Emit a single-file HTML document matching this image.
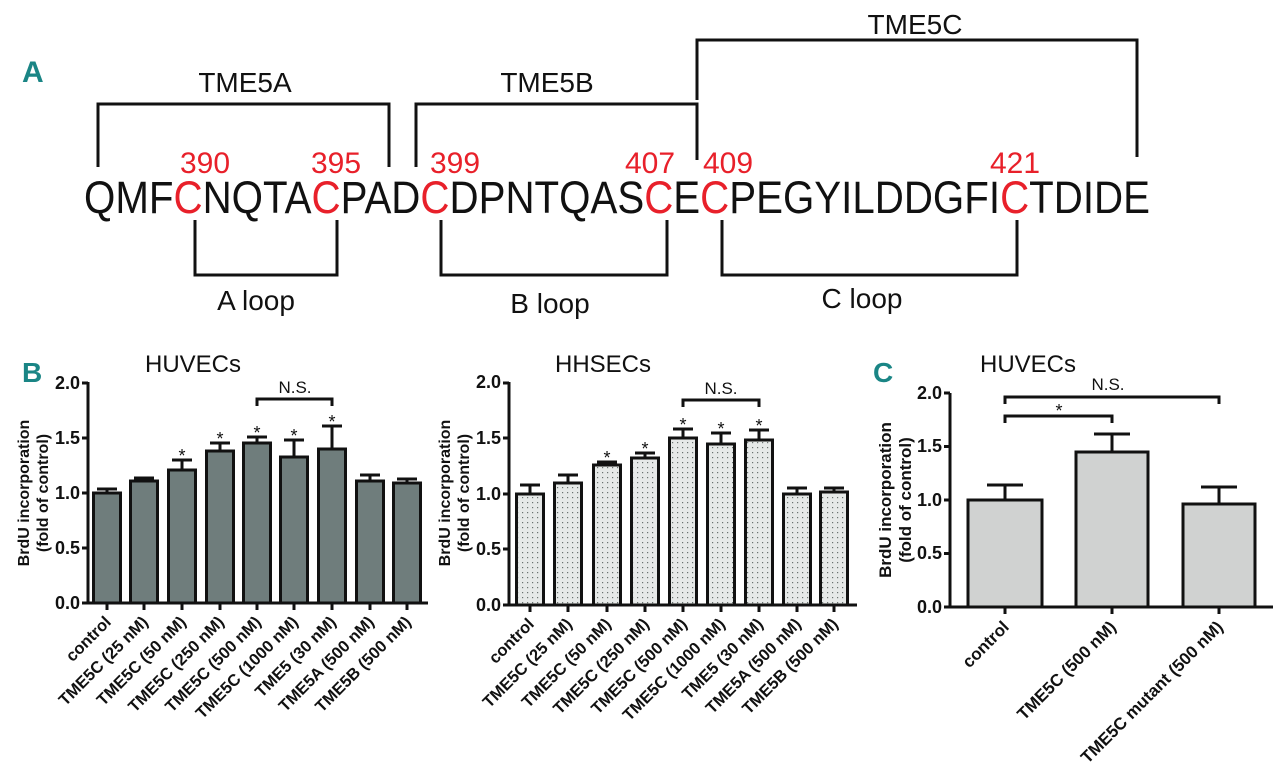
<!DOCTYPE html>
<html><head><meta charset="utf-8"><style>body{margin:0;background:#fff}svg{display:block}</style></head><body>
<svg width="1280" height="767" viewBox="0 0 1280 767" xmlns="http://www.w3.org/2000/svg" font-family="Liberation Sans, sans-serif">
<defs>
<pattern id="dots" width="5" height="5" patternUnits="userSpaceOnUse"><rect width="5" height="5" fill="#e6e9e8"/><rect x="2" y="2" width="1.2" height="1.2" fill="#6a7270"/></pattern>
</defs>
<!-- Panel A -->
<text x="22" y="82" font-size="30" font-weight="bold" fill="#1a8585">A</text>
<g stroke="#111" stroke-width="3" fill="none">
<polyline points="98,167 98,104 389,104 389,167"/>
<polyline points="416,167 416,104 697,104 697,160"/>
<polyline points="697,100 697,40 1137,40 1137,157"/>
<polyline points="195,220 195,275 337,275 337,220"/>
<polyline points="441,220 441,275 667,275 667,220"/>
<polyline points="722,220 722,275 1017,275 1017,220"/>
</g>
<g font-size="28" fill="#111" text-anchor="middle">
<text x="245" y="92">TME5A</text>
<text x="547" y="92">TME5B</text>
<text x="915" y="34">TME5C</text>
<text x="256" y="310">A loop</text>
<text x="550" y="313">B loop</text>
<text x="862" y="308">C loop</text>
</g>
<g font-size="30" fill="#e8202a" text-anchor="middle">
<text x="205" y="173">390</text><text x="336" y="173">395</text><text x="455" y="173">399</text>
<text x="650" y="173">407</text><text x="728" y="173">409</text><text x="1015" y="173">421</text>
</g>
<text x="84" y="213" font-size="45" fill="#111" textLength="1066" lengthAdjust="spacingAndGlyphs">QMF<tspan fill="#e8202a">C</tspan>NQTA<tspan fill="#e8202a">C</tspan>PAD<tspan fill="#e8202a">C</tspan>DPNTQAS<tspan fill="#e8202a">C</tspan>E<tspan fill="#e8202a">C</tspan>PEGYILDDGFI<tspan fill="#e8202a">C</tspan>TDIDE</text>

<!-- Panel B left -->
<text x="22" y="382" font-size="28" font-weight="bold" fill="#1a8585">B</text>
<text x="193" y="372" font-size="24" text-anchor="middle" fill="#111">HUVECs</text>
<g font-size="16" font-weight="bold" text-anchor="middle" fill="#111">
<text transform="translate(29,493) rotate(-90)">BrdU incorporation</text>
<text transform="translate(48,493) rotate(-90)">(fold of control)</text>
</g>
<g font-size="18" font-weight="bold" text-anchor="end" fill="#111">
<text x="80" y="389">2.0</text><text x="80" y="444">1.5</text><text x="80" y="499">1.0</text><text x="80" y="554">0.5</text><text x="80" y="609">0.0</text>
</g>
<g fill="#6f7d7c" stroke="#111" stroke-width="3">
<rect x="93.5" y="493" width="27" height="110"/><rect x="130.5" y="481" width="27" height="122"/><rect x="168.5" y="470" width="27" height="133"/>
<rect x="206.5" y="451" width="27" height="152"/><rect x="243.5" y="443" width="27" height="160"/><rect x="280.5" y="457" width="27" height="146"/>
<rect x="318.5" y="449" width="27" height="154"/><rect x="356.5" y="481" width="27" height="122"/><rect x="393.5" y="483" width="27" height="120"/>
</g>
<g stroke="#111" stroke-width="3" fill="none">
<path d="M107 493V489M97 489H117M144 481V478M134 478H154M182 470V460M172 460H192M220 451V443M210 443H230M257 443V437M247 437H267M294 457V440M284 440H304M332 449V426M322 426H342M370 481V475M360 475H380M407 483V479M397 479H417"/>
<path d="M88 382V603H428M82 383H88M82 438H88M82 493H88M82 548H88M82 603H88"/>
<path d="M107 603V610M144 603V610M182 603V610M220 603V610M257 603V610M294 603V610M332 603V610M370 603V610M407 603V610"/>
<path d="M257 406V399H332V406"/>
</g>
<text x="295" y="393" font-size="17" text-anchor="middle" fill="#111">N.S.</text>
<g font-size="18" text-anchor="middle" fill="#111"><text x="182" y="462">*</text><text x="220" y="445">*</text><text x="257" y="439">*</text><text x="294" y="442">*</text><text x="332" y="428">*</text></g>
<g font-size="16.5" font-weight="bold" text-anchor="end" fill="#111">
<text transform="translate(112,623) rotate(-45)">control</text>
<text transform="translate(149,623) rotate(-45)">TME5C (25 nM)</text>
<text transform="translate(187,623) rotate(-45)">TME5C (50 nM)</text>
<text transform="translate(225,623) rotate(-45)">TME5C (250 nM)</text>
<text transform="translate(262,623) rotate(-45)">TME5C (500 nM)</text>
<text transform="translate(299,623) rotate(-45)">TME5C (1000 nM)</text>
<text transform="translate(337,623) rotate(-45)">TME5 (30 nM)</text>
<text transform="translate(375,623) rotate(-45)">TME5A (500 nM)</text>
<text transform="translate(412,623) rotate(-45)">TME5B (500 nM)</text>
</g>

<!-- Panel B middle -->
<text x="603" y="372" font-size="24" text-anchor="middle" fill="#111">HHSECs</text>
<g font-size="16" font-weight="bold" text-anchor="middle" fill="#111">
<text transform="translate(450,493) rotate(-90)">BrdU incorporation</text>
<text transform="translate(469,493) rotate(-90)">(fold of control)</text>
</g>
<g font-size="18" font-weight="bold" text-anchor="end" fill="#111">
<text x="501" y="388">2.0</text><text x="501" y="444">1.5</text><text x="501" y="500">1.0</text><text x="501" y="555">0.5</text><text x="501" y="611">0.0</text>
</g>
<g fill="url(#dots)" stroke="#111" stroke-width="3">
<rect x="516.5" y="494" width="27" height="111"/><rect x="554.5" y="483" width="27" height="122"/><rect x="593.5" y="465" width="27" height="140"/>
<rect x="631.5" y="458" width="27" height="147"/><rect x="669.5" y="438" width="27" height="167"/><rect x="707.5" y="444" width="27" height="161"/>
<rect x="745.5" y="440" width="27" height="165"/><rect x="783.5" y="494" width="27" height="111"/><rect x="820.5" y="492" width="27" height="113"/>
</g>
<g stroke="#111" stroke-width="3" fill="none">
<path d="M530 494V485M520 485H540M568 483V475M558 475H578M607 465V462M597 462H617M645 458V453M635 453H655M683 438V429M673 429H693M721 444V433M711 433H731M759 440V430M749 430H769M797 494V488M787 488H807M834 492V488M824 488H844"/>
<path d="M509 382V605H857M503 383H509M503 438H509M503 494H509M503 549H509M503 605H509"/>
<path d="M530 605V612M568 605V612M607 605V612M645 605V612M683 605V612M721 605V612M759 605V612M797 605V612M834 605V612"/>
<path d="M683 407V400H759V407"/>
</g>
<text x="721" y="394" font-size="17" text-anchor="middle" fill="#111">N.S.</text>
<g font-size="18" text-anchor="middle" fill="#111"><text x="607" y="464">*</text><text x="645" y="455">*</text><text x="683" y="431">*</text><text x="721" y="435">*</text><text x="759" y="432">*</text></g>
<g font-size="16.5" font-weight="bold" text-anchor="end" fill="#111">
<text transform="translate(535,625) rotate(-45)">control</text>
<text transform="translate(573,625) rotate(-45)">TME5C (25 nM)</text>
<text transform="translate(612,625) rotate(-45)">TME5C (50 nM)</text>
<text transform="translate(650,625) rotate(-45)">TME5C (250 nM)</text>
<text transform="translate(688,625) rotate(-45)">TME5C (500 nM)</text>
<text transform="translate(726,625) rotate(-45)">TME5C (1000 nM)</text>
<text transform="translate(764,625) rotate(-45)">TME5 (30 nM)</text>
<text transform="translate(802,625) rotate(-45)">TME5A (500 nM)</text>
<text transform="translate(839,625) rotate(-45)">TME5B (500 nM)</text>
</g>

<!-- Panel C -->
<text x="873" y="382" font-size="28" font-weight="bold" fill="#1a8585">C</text>
<text x="1028" y="372" font-size="24" text-anchor="middle" fill="#111">HUVECs</text>
<g font-size="17" font-weight="bold" text-anchor="middle" fill="#111">
<text transform="translate(891,500) rotate(-90)">BrdU incorporation</text>
<text transform="translate(911,500) rotate(-90)">(fold of control)</text>
</g>
<g font-size="18" font-weight="bold" text-anchor="end" fill="#111">
<text x="942" y="399">2.0</text><text x="942" y="452">1.5</text><text x="942" y="506">1.0</text><text x="942" y="559">0.5</text><text x="942" y="613">0.0</text>
</g>
<g fill="#d0d2d1" stroke="#111" stroke-width="3">
<rect x="968" y="500" width="74" height="107"/><rect x="1076" y="452" width="72" height="155"/><rect x="1183" y="504" width="72" height="103"/>
</g>
<g stroke="#111" stroke-width="3" fill="none">
<path d="M1005 500V485M987 485H1023M1112 452V434M1094 434H1130M1219 504V487M1201 487H1237"/>
<path d="M950 393V607H1273M944 393H950M944 446.5H950M944 500H950M944 553.5H950M944 607H950"/>
<path d="M1005 607V614M1112 607V614M1219 607V614"/>
<path d="M1005 404V397H1219V404M1005 423V416H1112V423"/>
</g>
<text x="1108" y="390" font-size="17" text-anchor="middle" fill="#111">N.S.</text>
<text x="1059" y="417" font-size="18" text-anchor="middle" fill="#111">*</text>
<g font-size="17" font-weight="bold" text-anchor="end" fill="#111">
<text transform="translate(1010,628) rotate(-45)">control</text>
<text transform="translate(1117,628) rotate(-45)">TME5C (500 nM)</text>
<text transform="translate(1224,628) rotate(-45)">TME5C mutant (500 nM)</text>
</g>
</svg>
</body></html>
